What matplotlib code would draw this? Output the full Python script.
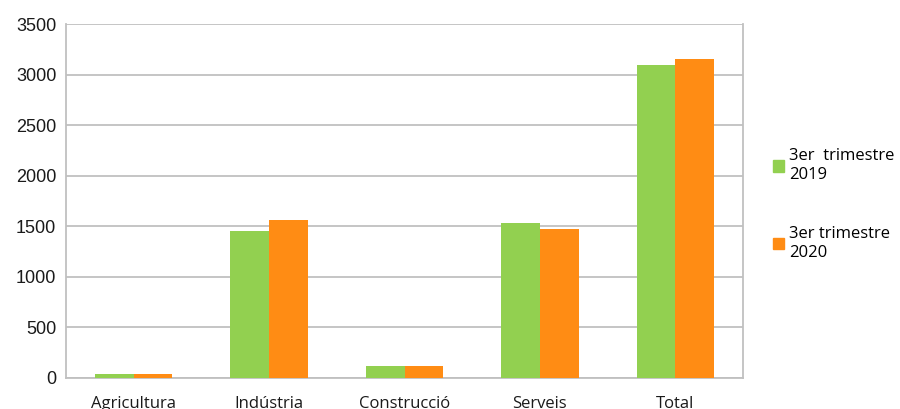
import numpy as np
import matplotlib.pyplot as plt
from matplotlib.patches import Patch

# Data
categories = ['Agricultura', 'Indústria', 'Construcció', 'Serveis', 'Total']
q3_2019 = [35, 1450, 123, 1536, 3099]
q3_2020 = [35, 1566, 123, 1477, 3158]
labels = ['3er  trimestre\n2019', '3er trimestre\n2020']
yticks = [0, 500, 1000, 1500, 2000, 2500, 3000, 3500]

green = '#92D050'
orange = '#FF8C14'
grey = '#C0C0C0'

fig = plt.figure(figsize=(9, 4.09), dpi=100)
ax = fig.add_axes([0.0733, 0.0758, 0.7523, 0.8655])

x = np.arange(len(categories))
w = 0.285
ax.bar(x - w / 2, q3_2019, w, color=green, zorder=3)
ax.bar(x + w / 2, q3_2020, w, color=orange, zorder=3)

ax.set_xlim(-0.5, len(categories) - 0.5)
ax.set_ylim(0, 3500)
ax.set_yticks(yticks)
ax.set_yticklabels([str(v) for v in yticks], fontsize=13, family='Liberation Sans', color='#1a1a1a')
ax.set_xticks(x)
ax.set_xticklabels(categories, fontsize=12, family='Open Sans', color='#1a1a1a')
ax.tick_params(length=0)
ax.tick_params(axis='y', pad=7)
ax.tick_params(axis='x', pad=13)
ax.yaxis.grid(True, color=grey, linewidth=1.3, zorder=0)
for s in ['left', 'right', 'bottom']:
    ax.spines[s].set_color(grey)
    ax.spines[s].set_linewidth(1.3)
ax.spines['top'].set_visible(False)

handles = [Patch(color=green), Patch(color=orange)]
fig.legend(handles, labels, loc='center left', bbox_to_anchor=(0.842, 0.5),
           frameon=False, handlelength=0.7, handleheight=0.7, handletextpad=0.3,
           labelspacing=2.6, prop={'family': 'Open Sans', 'size': 12})

fig.savefig('out.png')
